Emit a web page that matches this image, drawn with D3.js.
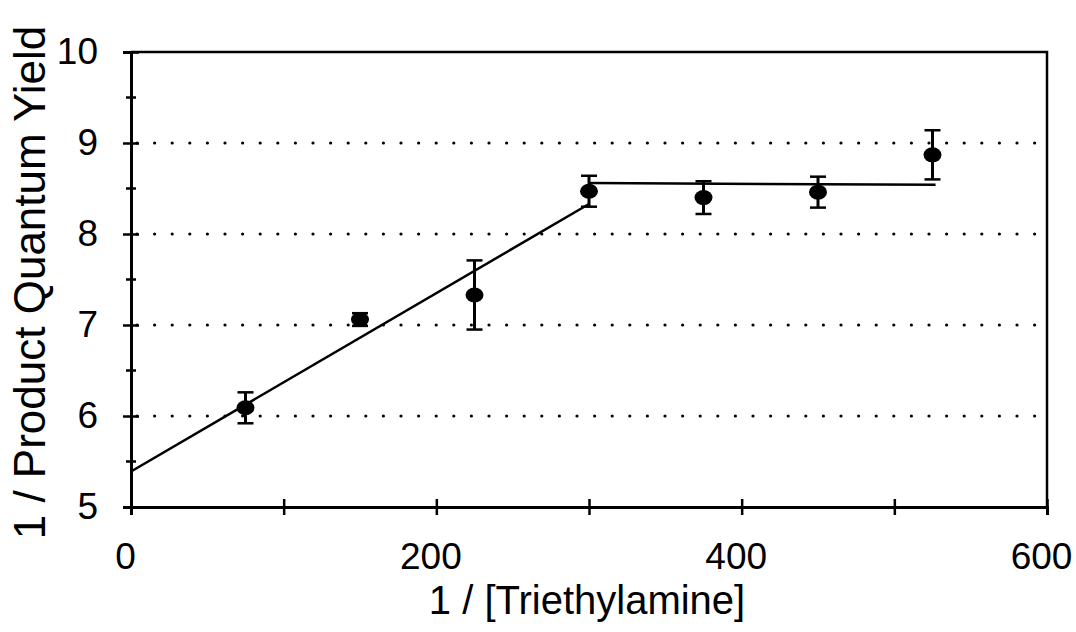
<!DOCTYPE html>
<html>
<head>
<meta charset="utf-8">
<script src="https://cdn.jsdelivr.net/npm/d3@7"></script>
<style>
  body { margin: 0; background: #fff; }
  svg text { font-family: "Liberation Sans", Arial, sans-serif; fill: #000; }
</style>
</head>
<body>
<svg id="chart" width="1076" height="632"></svg>
<script>
// DATA
const xValues = [75, 150, 225, 300, 375, 450, 525];
const yValues = [6.09, 7.06, 7.33, 8.47, 8.40, 8.46, 8.87];
const yErrors = [0.17, 0.07, 0.38, 0.17, 0.18, 0.17, 0.27];
const fitRising = [[0, 5.39], [300, 8.33]];
const fitFlat = [[300, 8.56], [527, 8.54]];
const xTicks = [0, 100, 200, 300, 400, 500, 600];
const xTickLabels = [0, 200, 400, 600];
const yTicks = [5, 6, 7, 8, 9, 10];
const yMinorTicks = [5.5, 6.5, 7.5, 8.5, 9.5];
const gridValues = [6, 7, 8, 9];

// CANVAS SETUP
const margin = { top: 52, right: 29, bottom: 125, left: 131 };
const width = 1076, height = 632;
const innerWidth = width - margin.left - margin.right,
  innerHeight = height - margin.top - margin.bottom;

const svg = d3.select("#chart");
const g = svg.append("g").attr("transform", `translate(${margin.left},${margin.top})`);

const xScale = d3.scaleLinear().domain([0, 600]).range([0, innerWidth]);
const yScale = d3.scaleLinear().domain([5, 10]).range([innerHeight, 0]);

// dotted grid
g.selectAll(".grid")
  .data(gridValues)
  .join("line")
  .attr("x1", 6)
  .attr("x2", innerWidth)
  .attr("y1", (d) => yScale(d))
  .attr("y2", (d) => yScale(d))
  .attr("stroke", "#000")
  .attr("stroke-width", 3.2)
  .attr("stroke-linecap", "round")
  .attr("stroke-dasharray", "0 17.6");

// frame top and right
g.append("path")
  .attr("d", `M0,0H${innerWidth}V${innerHeight}`)
  .attr("fill", "none")
  .attr("stroke", "#000")
  .attr("stroke-width", 2.5);

// Y axis
const yl = g.append("g");
yl.call(d3.axisLeft(yScale).tickValues(yTicks).tickSize(8).tickPadding(25).tickFormat(d3.format("d")))
  .call((a) => {
    a.select(".domain").attr("stroke-width", 3);
    a.selectAll(".tick line").attr("x2", 8).attr("x1", -8).attr("stroke-width", 2.5);
    a.selectAll("text").attr("font-size", 37).attr("font-family", null);
  });
yl.selectAll(".minor")
  .data(yMinorTicks)
  .join("line")
  .attr("x1", -5)
  .attr("x2", 5)
  .attr("y1", (d) => yScale(d))
  .attr("y2", (d) => yScale(d))
  .attr("stroke", "#000")
  .attr("stroke-width", 2.5);

// X axis
const xl = g.append("g").attr("transform", `translate(0,${innerHeight})`);
xl.call(d3.axisBottom(xScale).tickValues(xTicks).tickSize(8).tickPadding(28)
    .tickFormat((d) => (xTickLabels.includes(d) ? d : "")))
  .call((a) => {
    a.select(".domain").attr("stroke-width", 3);
    a.selectAll(".tick line").attr("y1", -8).attr("y2", 8).attr("stroke-width", 2.5);
    a.selectAll("text").filter((d) => !xTickLabels.includes(d)).remove();
    a.selectAll("text").attr("font-size", 37).attr("font-family", null).attr("dx", -6);
  });

// fit lines
const line = d3.line().x((d) => xScale(d[0])).y((d) => yScale(d[1]));
g.selectAll(".fit")
  .data([fitRising, fitFlat])
  .join("path")
  .attr("d", line)
  .attr("fill", "none")
  .attr("stroke", "#000")
  .attr("stroke-width", 2.5);

// error bars
const points = xValues.map((x, i) => ({ x, y: yValues[i], e: yErrors[i] }));
const eb = g.selectAll(".eb").data(points).join("g");
eb.append("line")
  .attr("x1", (d) => xScale(d.x))
  .attr("x2", (d) => xScale(d.x))
  .attr("y1", (d) => yScale(d.y - d.e))
  .attr("y2", (d) => yScale(d.y + d.e))
  .attr("stroke", "#000")
  .attr("stroke-width", 3);
[-1, 1].forEach((s) => {
  eb.append("line")
    .attr("x1", (d) => xScale(d.x) - 8)
    .attr("x2", (d) => xScale(d.x) + 8)
    .attr("y1", (d) => yScale(d.y + s * d.e))
    .attr("y2", (d) => yScale(d.y + s * d.e))
    .attr("stroke", "#000")
    .attr("stroke-width", 2.5);
});

// markers
g.selectAll(".pt")
  .data(points)
  .join("ellipse")
  .attr("cx", (d) => xScale(d.x))
  .attr("cy", (d) => yScale(d.y))
  .attr("rx", 9)
  .attr("ry", 7.5)
  .attr("fill", "#000");

// axis titles
svg.append("text")
  .attr("x", margin.left + innerWidth / 2 - 2)
  .attr("y", 614)
  .attr("text-anchor", "middle")
  .attr("font-size", 40)
  .text("1 / [Triethylamine]");

svg.append("text")
  .attr("transform", `translate(45,${margin.top + innerHeight / 2 + 3}) rotate(-90)`)
  .attr("text-anchor", "middle")
  .attr("font-size", 44)
  .text("1 / Product Quantum Yield");
</script>
</body>
</html>
